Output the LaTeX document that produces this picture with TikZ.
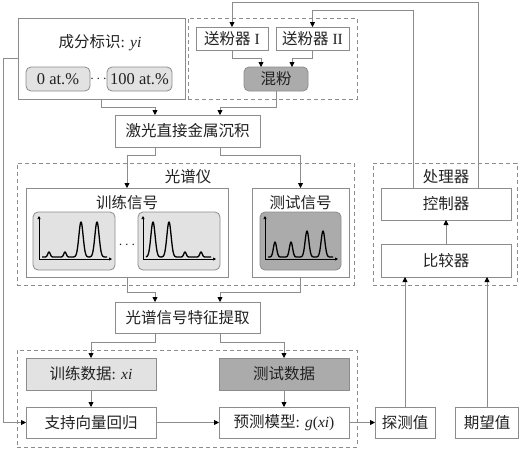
\documentclass[tikz,border=0pt]{standalone}
\usepackage{fontspec}
\setmainfont{Liberation Serif}
\newfontfamily\cjk{Noto Sans CJK SC}
\usetikzlibrary{arrows.meta,calc}
\definecolor{ln}{HTML}{8C8C8C}
\definecolor{lightfill}{HTML}{E2E2E2}
\definecolor{darkfill}{HTML}{ABABAB}
\definecolor{txt}{HTML}{222222}
\newcommand{\pk}[3]{#2*exp(-min(20,(\x-#1)*(\x-#1)/(2+#2/#3)))}
\newcommand{\myspectrum}[5]{%
  \begin{scope}[shift={(#1)}]
    \draw[axisln] (0,0) -- (0,-43);
    \draw[axisln] (0,0) -- (73,0);
    \draw[specln] plot[domain=3:68,samples=200] ({\x},{-2-\pk{10}{#2}{5}-\pk{26}{#3}{5}-\pk{42}{#4}{5}-\pk{58}{#5}{5}});
  \end{scope}}
\tikzset{
  bx/.style={draw=ln, line width=0.8pt, fill=white, inner sep=0pt, outer sep=0pt, text=txt, font=\fontsize{15.5}{17}\selectfont},
  rbx/.style={bx, rounded corners=5pt},
  grp/.style={draw=ln, line width=0.8pt, dash pattern=on 4pt off 3pt, inner sep=0pt, outer sep=0pt},
  ttl/.style={inner sep=0pt, text=txt, font=\fontsize{15.5}{17}\selectfont},
  arr/.style={draw=ln, line width=0.8pt, -{Triangle[length=5pt,width=5pt,color=black]}},
  lnk/.style={draw=ln, line width=0.8pt},
  axisln/.style={draw=black, line width=0.7pt, -{Triangle[length=3pt,width=3pt]}},
  specln/.style={draw=black, line width=1.3pt, line join=round}
}
\begin{document}
\begin{tikzpicture}[x=1pt,y=-1pt]
\useasboundingbox[fill=white] (0,0) rectangle (521,450);
% group frames
\node[grp, minimum width=169pt, minimum height=81pt] (powder) at (272.5,58.5) {};
\node[grp, minimum width=337pt, minimum height=122pt] (spec) at (185.5,224) {};
\node[grp, minimum width=340pt, minimum height=97pt] (learn) at (187,398.5) {};
\node[grp, minimum width=144pt, minimum height=122pt] (proc) at (445,224) {};
% composition
\node[bx, minimum width=167pt, minimum height=81pt] (comp) at (101.5,58.5) {};
\node[ttl] (compt) at (100,43) {{\cjk 成分标识}: \textit{yi}};
\node[rbx, fill=lightfill, minimum width=64pt, minimum height=24pt] (at0) at (58,79) {\fontsize{16.5}{18}\selectfont 0 at.\%};
\node[rbx, fill=lightfill, minimum width=65pt, minimum height=24pt] (at100) at (139.5,79) {\fontsize{16.5}{18}\selectfont 100 at.\%};
\node[ttl] (dots1) at (98.5,79) {$\cdots$};
% powder
\node[bx, minimum width=72pt, minimum height=23pt] (f1) at (232,38.5) {{\cjk 送粉器} I};
\node[bx, minimum width=73pt, minimum height=23pt] (f2) at (312.5,38.5) {{\cjk 送粉器} II};
\node[rbx, fill=darkfill, minimum width=64pt, minimum height=24pt] (mix) at (276,79) {\cjk 混粉};
\node[bx, minimum width=145pt, minimum height=32pt] (laser) at (187.5,131) {\cjk 激光直接金属沉积};
% spectrometer
\node[ttl] (spect) at (188,177) {\cjk 光谱仪};
\node[bx, minimum width=202pt, minimum height=89pt] (train) at (127,232.5) {};
\node[ttl] (traint) at (127,203) {\cjk 训练信号};
\node[bx, minimum width=97pt, minimum height=89pt] (test) at (300.5,232.5) {};
\node[ttl] (testt) at (300.5,203) {\cjk 测试信号};
\node[rbx, fill=lightfill, minimum width=82pt, minimum height=58pt] (s1) at (74,241) {};
\node[rbx, fill=lightfill, minimum width=82pt, minimum height=58pt] (s2) at (179,241) {};
\node[ttl] (dots2) at (127,245) {$\cdots$};
\node[rbx, fill=darkfill, minimum width=81pt, minimum height=58pt] (s3) at (300.5,241) {};
\coordinate (o1) at ($(s1.south west)+(6,-11)$);
\coordinate (o2) at ($(s2.south west)+(5,-11)$);
\coordinate (o3) at ($(s3.south west)+(5,-11)$);
\myspectrum{o1}{5}{5}{35}{35}
\myspectrum{o2}{35}{35}{5}{5}
\myspectrum{o3}{15}{15}{26}{26}
% feature
\node[bx, minimum width=145pt, minimum height=31pt] (feat) at (187.5,317.5) {\cjk 光谱信号特征提取};
% learning
\node[bx, fill=lightfill, minimum width=130pt, minimum height=32pt] (td) at (91,374) {{\cjk 训练数据}: \textit{xi}};
\node[bx, fill=darkfill, minimum width=130pt, minimum height=32pt] (tsd) at (284,374) {\cjk 测试数据};
\node[bx, minimum width=130pt, minimum height=31pt] (svr) at (91,422.5) {\cjk 支持向量回归};
\node[bx, minimum width=130pt, minimum height=31pt] (pm) at (284,422.5) {{\cjk 预测模型}: \textit{g}(\textit{xi})};
\node[bx, minimum width=60pt, minimum height=31pt] (det) at (405,422.5) {\cjk 探测值};
\node[bx, minimum width=63pt, minimum height=31pt] (expv) at (487,422.5) {\cjk 期望值};
% processor
\node[ttl] (proct) at (446,177) {\cjk 处理器};
\node[bx, minimum width=130pt, minimum height=32pt] (ctrl) at (446,204) {\cjk 控制器};
\node[bx, minimum width=130pt, minimum height=33pt] (cmpr) at (446,260.5) {\cjk 比较器};
% connectors
\draw[arr] (comp.south) -- ++(0,8.5) -| ([xshift=-32.5pt]laser.north);
\draw[arr] (mix.south) -- ++(0,16) -| ([xshift=32.5pt]laser.north);
\draw[arr] (f1.south) -- ++(0,8) -| ([xshift=-15pt]mix.north);
\draw[arr] (f2.south) -- ++(0,8) -| ([xshift=16pt]mix.north);
\draw[arr] ([xshift=-32.5pt]laser.south) -- ++(0,8) -| (train.north);
\draw[arr] ([xshift=32.5pt]laser.south) -- ++(0,8) -| (test.north);
\draw[arr] (train.south) -- ++(0,15) -| ([xshift=-32.5pt]feat.north);
\draw[arr] (test.south) -- ++(0,15) -| ([xshift=32.5pt]feat.north);
\draw[arr] ([xshift=-32.5pt]feat.south) -- ++(0,9) -| (td.north);
\draw[arr] ([xshift=32.5pt]feat.south) -- ++(0,9) -| (tsd.north);
\draw[arr] (td.south) -- (svr.north);
\draw[arr] (tsd.south) -- (pm.north);
\draw[arr] (svr.east) -- (pm.west);
\draw[arr] (pm.east) -- (det.west);
\draw[arr] (det.north) -- (det.north |- cmpr.south);
\draw[arr] (expv.north) -- (expv.north |- cmpr.south);
\draw[arr] (cmpr.north) -- (ctrl.south);
\draw[arr] (comp.west) -- ++(-15,0) |- (svr.west);
\draw[arr] ([xshift=32pt]ctrl.north) -- ++(0,-186) -| (f1.north);
\draw[arr] ([xshift=-33pt]ctrl.north) -- ++(0,-178) -| (f2.north);
\end{tikzpicture}
\end{document}
